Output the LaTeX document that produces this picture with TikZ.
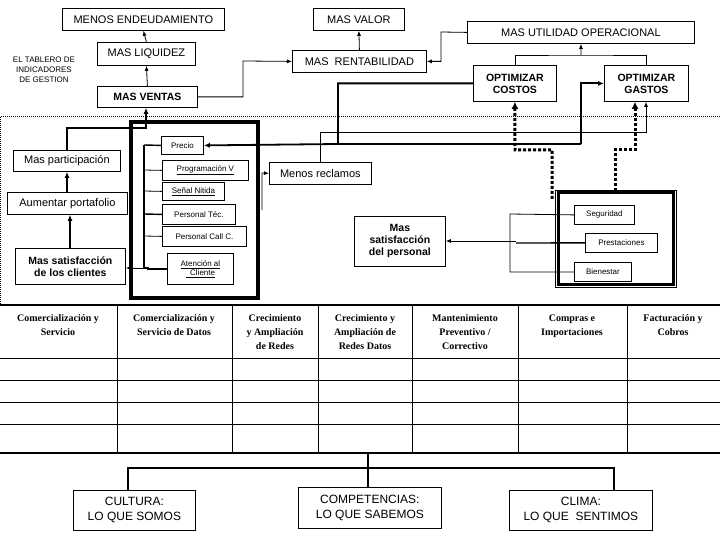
\documentclass[tikz,border=0pt]{standalone}
\usepackage{fontspec}
\setmainfont{Liberation Sans}
\newfontfamily\serifb{Liberation Serif}
\usetikzlibrary{arrows.meta}
\begin{document}
\begin{tikzpicture}[x=1pt,y=-1pt,line width=0.8pt,
  box/.style={draw,line width=0.8pt,inner sep=0pt,anchor=north west,align=center,font=\fontsize{11}{12}\selectfont},
  sbox/.style={box,font=\fontsize{8}{9}\selectfont},
  bbox/.style={box,font=\bfseries\fontsize{10.5}{12}\selectfont},
  lbox/.style={box,font=\fontsize{12}{15}\selectfont},
  arr/.style={-{Latex[length=5pt,width=4pt]}},
  tarr/.style={-{Latex[length=6pt,width=5pt]},line width=1.8pt},
  darr/.style={-{Latex[length=7pt,width=7pt]},line width=3pt,dash pattern=on 3pt off 2pt},
  hd/.style={font=\serifb\bfseries\fontsize{10}{14}\selectfont,align=center,anchor=north}]
\useasboundingbox (0,0) rectangle (720,540);
% top row
\node[box,minimum width=162pt,minimum height=22pt] (end) at (62,8) {MENOS ENDEUDAMIENTO};
\node[box,minimum width=91pt,minimum height=22pt] (valor) at (313,8) {MAS VALOR};
\node[box,minimum width=227pt,minimum height=22pt] (util) at (467,21) {MAS UTILIDAD OPERACIONAL};
\node[box,minimum width=134pt,minimum height=22pt] (rent) at (292,50) {MAS \ RENTABILIDAD};
\node[box,minimum width=98pt,minimum height=23pt] (liq) at (97,42) {MAS LIQUIDEZ};
\node[align=center,font=\fontsize{8}{10}\selectfont] (tab) at (44,70) {EL TABLERO DE\\INDICADORES\\DE GESTION};
\node[bbox,minimum width=100pt,minimum height=21pt] (ventas) at (97,86) {MAS VENTAS};
\node[bbox,minimum width=83pt,minimum height=36pt] (costos) at (473,65) {OPTIMIZAR\\COSTOS};
\node[bbox,minimum width=84pt,minimum height=36pt] (gastos) at (604,65) {OPTIMIZAR\\GASTOS};
% dotted region
\draw[densely dotted,line width=1pt] (0,117) rectangle (720,305);
% left column
\node[box,minimum width=107pt,minimum height=21pt] (part) at (13,150) {Mas participación};
\node[box,minimum width=120pt,minimum height=22pt] (port) at (7,192) {Aumentar portafolio};
\node[bbox,minimum width=110pt,minimum height=36pt] (satc) at (15,248) {Mas satisfacción\\de los clientes};
% thick box and items
\draw[line width=4pt] (131,122) rectangle (258,298);
\node[sbox,minimum width=42pt,minimum height=18pt] (precio) at (161,136) {Precio};
\node[sbox,minimum width=86pt,minimum height=20pt] (prog) at (162,160) {\underline{Programación V}};
\node[sbox,minimum width=62pt,minimum height=18pt] (senal) at (162,182) {\underline{Señal Nitida}};
\node[sbox,minimum width=73pt,minimum height=20pt] (ptec) at (162,204) {Personal Téc.};
\node[sbox,minimum width=84pt,minimum height=20pt] (pcall) at (162,226) {Personal Call C.};
\node[sbox,minimum width=66pt,minimum height=31pt] (aten) at (167,253) {\underline{Atención al}\\\underline{\ \ Cliente}};
\node[box,minimum width=102pt,minimum height=22pt] (recl) at (269,162) {Menos reclamos};
\node[bbox,minimum width=91pt,minimum height=50pt] (satp) at (354,216) {Mas\\satisfacción\\del personal};
% right thick box
\draw (555,190) rectangle (676,287);
\draw[line width=3pt] (558,193) rectangle (673,284);
\node[sbox,minimum width=60pt,minimum height=19pt] (seg) at (574,205) {Seguridad};
\node[sbox,minimum width=72pt,minimum height=19pt] (prest) at (585,233) {Prestaciones};
\node[sbox,minimum width=57pt,minimum height=19pt] (bien) at (574,262) {Bienestar};
% top connectors
\draw[arr] (liq.north) -- (end.south);
\draw[arr] (ventas.north) -- (liq.south);
\draw[arr] (rent.north) -- (valor.south);
\draw[arr] (ventas.east) -| (243,61) -- (rent.west);
\draw[arr] (util.west) -- (441,32) |- (rent.east);
\draw (costos.north) |- (581,55) -| (gastos.north);
\draw[arr] (581,55) -- (util.south);
% left chain
\draw[tarr] (satc.north -| 70,0) -- (port.south -| 70,0);
\draw[tarr] (port.north -| 67,0) -- (part.south -| 67,0);
\draw[tarr] (part.north -| 67,0) |- (146,128) -- (ventas.south -| 146,0);
% branches inside thick box
\draw[line width=1.4pt] (144,145) -- (144,268);
\draw[line width=1.4pt] (144,145) -- (precio.west);
\draw (144,170) -- (prog.west);
\draw (144,191) -- (senal.west);
\draw[line width=1.4pt] (144,214) -- (ptec.west);
\draw (144,236) -- (pcall.west);
\draw[line width=1.4pt] (144,268) -- (148,268) |- (aten.west);
\draw[arr] (144,268) -- (satc.east |- 0,268);
\draw[arr] (262,210) -- (262,173) -- (recl.west);
% long connectors
\draw[tarr] (581,144) |- (gastos.west);
\draw[tarr] (costos.west) -| (338,144) -- (581,144) (338,144) -- (precio.east);
\draw[arr] (recl.north -| 320,0) |- (646,132) -- (gastos.south -| 646,0);
\draw[darr] (552,199) |- (515,150) -- (costos.south);
\draw[darr] (615,191) |- (635,150) -- (gastos.south -| 635,0);
% personal
\draw (seg.west) -- (510,214) |- (bien.west);
\draw[line width=1.4pt] (prest.west) -- (516,243);
\draw[arr] (516,241) -- (satp.east |- 0,241);
% table
\draw[line width=1.4pt] (0,305) -- (720,305);
\draw[line width=2pt] (0,453) -- (720,453);
\foreach \y in {358,380,402,424} \draw (0,\y) -- (720,\y);
\foreach \x in {117,232,318,412,518,627} \draw (\x,305) -- (\x,453);
\node[hd] (h1) at (58,311) {Comercialización y\\Servicio};
\node[hd] (h2) at (174,311) {Comercialización y\\Servicio de Datos};
\node[hd] (h3) at (275,311) {Crecimiento\\y Ampliación\\de Redes};
\node[hd] (h4) at (365,311) {Crecimiento y\\Ampliación de\\Redes Datos};
\node[hd] (h5) at (465,311) {Mantenimiento\\Preventivo /\\Correctivo};
\node[hd] (h6) at (572,311) {Compras e\\Importaciones};
\node[hd] (h7) at (673,311) {Facturación y\\Cobros};
% bottom
\node[lbox,minimum width=122pt,minimum height=40pt] (cult) at (73,490) {CULTURA:\\LO QUE SOMOS};
\node[lbox,minimum width=143pt,minimum height=41pt] (comp) at (298,487) {COMPETENCIAS:\\LO QUE SABEMOS};
\node[lbox,minimum width=143pt,minimum height=40pt] (clima) at (509,490) {CLIMA:\\LO QUE \ SENTIMOS};
\coordinate (tb) at (368,453);
\draw[line width=1.4pt] (tb) -- (comp.north -| tb);
\draw[line width=1.4pt] (cult.north -| 128,0) |- (614,468) -- (clima.north -| 614,0);
\end{tikzpicture}
\end{document}
